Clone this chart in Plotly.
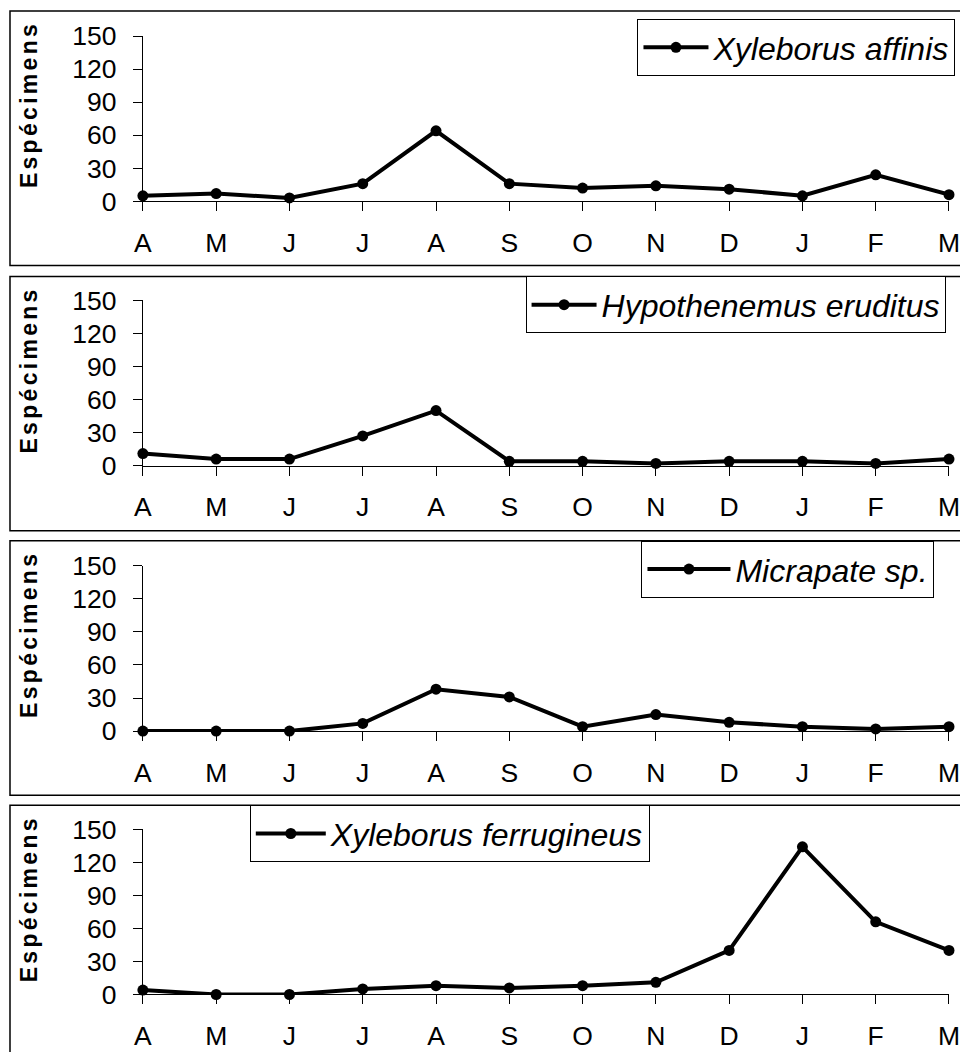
import plotly.graph_objects as go

months = ["A", "M", "J", "J", "A", "S", "O", "N", "D", "J", "F", "M"]
species = ["Xyleborus affinis", "Hypothenemus eruditus", "Micrapate sp.", "Xyleborus ferrugineus"]
x_affinis = [5, 7, 3, 16, 64, 16, 12, 14, 11, 5, 24, 6]
x_eruditus = [11, 6, 6, 27, 50, 4, 4, 2, 4, 4, 2, 6]
x_micrapate = [0, 0, 0, 7, 38, 31, 4, 15, 8, 4, 2, 4]
x_ferrugineus = [4, 0, 0, 5, 8, 6, 8, 11, 40, 134, 66, 40]
yticks = [0, 30, 60, 90, 120, 150]
series = [x_affinis, x_eruditus, x_micrapate, x_ferrugineus]

W, H = 960, 1052
FONT = "Liberation Sans, Arial, sans-serif"

# calibration: screen px -> figure px (page renders figure slightly offset/scaled)
def fx(s):
    return (s - 8) / 0.98

def fy(s):
    return (s - 15) / 0.97

def px_(s):
    return fx(s) / W

def py_(s):
    return 1 - fy(s) / H

# target screen positions:
# (panel_top, panel_bottom, y150, y0, legend_left, legend_top, title_y, legend_itemwidth)
panels = [
    (11, 265, 36, 201, 637, 19, 104, 65),
    (276, 530, 300, 465, 525, 276, 369, 65),
    (540, 794, 565, 730, 641, 540, 633, 83),
    (804, 1075, 828, 993, 249, 804, 897, 70),
]

fig = go.Figure()
layout = dict(
    width=W, height=H,
    margin=dict(l=0, r=0, t=0, b=0),
    paper_bgcolor="white", plot_bgcolor="white",
    font=dict(family=FONT, color="black", size=26),
    shapes=[], annotations=[],
)

xs = list(range(len(months)))
for i, (name, vals) in enumerate(zip(species, series)):
    n = "" if i == 0 else str(i + 1)
    ptop, pbot, y150, y0, lleft, ltop, ty, iw = panels[i]
    fig.add_trace(go.Scatter(
        x=xs, y=vals, name=name, mode="lines+markers",
        line=dict(color="black", width=4),
        marker=dict(color="black", size=11),
        cliponaxis=False,
        xaxis="x" + n, yaxis="y" + n,
        legend="legend" + n, showlegend=True,
    ))
    layout["xaxis" + n] = dict(
        domain=[px_(142), 1.0], range=[0, 11], anchor="y" + n,
        tickmode="array", tickvals=xs, ticktext=months,
        ticks="outside", ticklen=9, tickcolor="black", tickwidth=1,
        showline=True, linecolor="black", linewidth=1,
        showgrid=False, zeroline=False, ticklabelstandoff=9,
        ticklabeloverflow="allow",
        tickfont=dict(size=26.5, family=FONT, color="black"),
        fixedrange=True,
    )
    layout["yaxis" + n] = dict(
        domain=[py_(y0), py_(y150)], range=[0, 150], anchor="x" + n,
        tickmode="array", tickvals=yticks,
        ticks="outside", ticklen=9, tickcolor="black", tickwidth=1,
        showline=True, linecolor="black", linewidth=1,
        showgrid=False, zeroline=False, ticklabelstandoff=11,
        tickfont=dict(size=26.5, family=FONT, color="black"),
        fixedrange=True,
    )
    layout["legend" + n] = dict(
        x=px_(lleft), y=py_(ltop), xanchor="left", yanchor="top",
        xref="paper", yref="paper",
        bgcolor="white", bordercolor="black", borderwidth=1,
        font=dict(size=32, family=FONT, color="black", style="italic"),
        itemwidth=iw,
    )
    layout["shapes"].append(dict(
        type="rect", xref="paper", yref="paper",
        x0=px_(9), x1=1.05, y0=py_(pbot), y1=py_(ptop),
        line=dict(color="black", width=1.5), fillcolor="rgba(0,0,0,0)",
        layer="below",
    ))
    layout["annotations"].append(dict(
        xref="paper", yref="paper", x=px_(28), y=py_(ty),
        xanchor="center", yanchor="middle", textangle=-90, showarrow=False,
        text='<span style="letter-spacing:3.3px">Espécimens</span>',
        font=dict(size=23, family=FONT, color="black", weight="bold"),
    ))

fig.update_layout(**layout)
fig.write_html("out.html")
